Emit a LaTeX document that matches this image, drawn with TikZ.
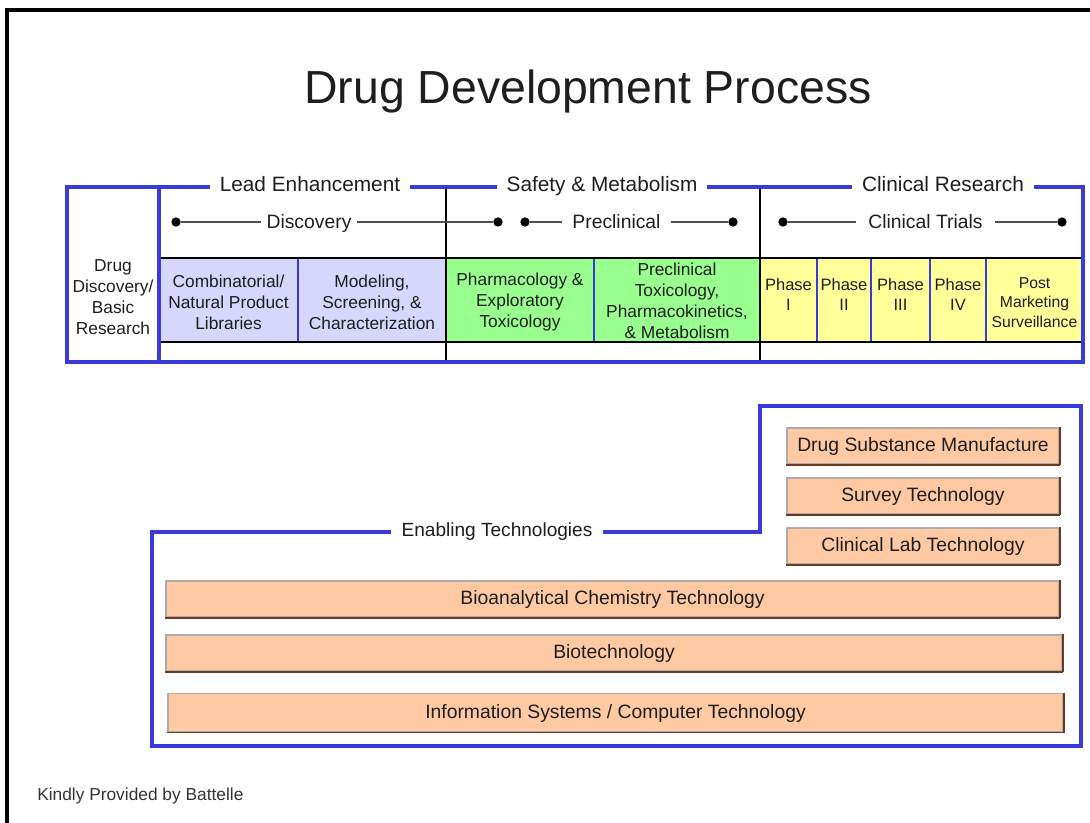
\documentclass[tikz,border=0pt]{standalone}
\usepackage{fontspec}
\setmainfont{Liberation Sans}
\begin{document}
\definecolor{frameblue}{HTML}{3A3AD8}
\definecolor{lav}{HTML}{D6D6FF}
\definecolor{mint}{HTML}{99FF8E}
\definecolor{lemon}{HTML}{FFFF99}
\definecolor{peach}{HTML}{FFC9A3}
\definecolor{ink}{HTML}{1E1E1E}
\definecolor{track}{HTML}{505050}
\definecolor{edgebrown}{HTML}{6A3A22}
\begin{tikzpicture}[x=0.75pt,y=-0.75pt,
  every node/.style={text=ink, align=center},
  blueline/.style={draw=frameblue, line width=2.3pt, line join=miter},
  thinblue/.style={draw=frameblue, line width=1pt},
  rule/.style={draw=black, line width=1.1pt},
  trackline/.style={draw=track, line width=1.5pt},
  dot/.style={circle, fill=black, inner sep=0pt, minimum size=7pt},
  head/.style={font=\fontsize{15.6}{18}\selectfont, inner xsep=7pt, anchor=base},
  sub/.style={font=\fontsize{14.5}{17}\selectfont, inner xsep=4pt, anchor=base},
  cell/.style={font=\fontsize{13}{15.75}\selectfont, inner sep=0pt},
  phase/.style={font=\fontsize{12.4}{14.8}\selectfont, inner sep=0pt},
  darkedge/.style={draw=edgebrown, line width=1.3pt},
  techbox/.style={draw=gray!65, line width=1pt, fill=peach, inner sep=0pt,
    font=\fontsize{14.5}{17}\selectfont, text height=10.5pt, text depth=2pt,
    append after command={(\tikzlastnode.south west) edge[darkedge] (\tikzlastnode.south east)
      (\tikzlastnode.south east) edge[darkedge] (\tikzlastnode.north east)}},
]
\useasboundingbox (0,0) rectangle (1090,823);

% page frame (top and left edges)
\draw[line width=2.3pt] (7,823) -- (7,10) -- (1090,10);

% title
\node[font=\fontsize{34.8}{40}\selectfont, anchor=base] (title) at (588,104) {Drug Development Process};

% ---------- process table ----------
% coloured cells
\fill[lav]   (159,258) rectangle (446,342);
\fill[mint]  (446,258) rectangle (760,342);
\fill[lemon] (760,258) rectangle (1083,342);

% cell separators
\draw[thinblue] (298,258) -- (298,342);
\draw[thinblue] (594,258) -- (594,342);
\foreach \x in {817,871,930,986} \draw[thinblue] (\x,258) -- (\x,342);

% black grid
\draw[rule] (159,258) -- (1083,258);
\draw[rule] (159,342) -- (1083,342);
\draw[rule] (446,187) -- (446,362);
\draw[rule] (760,187) -- (760,362);

% stage headers
\coordinate (ftop) at (67,187);
\node[head] (lead)   at (310,192) {Lead Enhancement};
\node[head] (safety) at (602,192) {Safety \& Metabolism};
\node[head] (clin)   at (943,192) {Clinical Research};

% blue frame of the table
\draw[blueline] (lead.west |- ftop) -- (67,187) -- (67,362) -- (1083,362) -- (1083,187) -- (clin.east |- ftop);
\draw[blueline] (lead.east |- ftop) -- (safety.west |- ftop);
\draw[blueline] (safety.east |- ftop) -- (clin.west |- ftop);
\draw[blueline] (159,187) -- (159,362);

% phase spans
\node[dot] (d1) at (176,222) {};
\node[sub] (disc) at (309,229) {Discovery};
\node[dot] (d2) at (498,222) {};
\draw[trackline] (d1) -- (disc.west |- d1);
\draw[trackline] (disc.east |- d1) -- (d2);

\node[dot] (p1) at (525,222) {};
\node[sub, inner xsep=8pt] (precl) at (616.5,229) {Preclinical};
\node[dot] (p2) at (733,222) {};
\draw[trackline] (p1) -- (precl.west |- p1);
\draw[trackline] (precl.east |- p1) -- (p2);

\node[dot] (c1) at (783,222) {};
\node[sub, inner xsep=9pt] (trials) at (925.5,229) {Clinical Trials};
\node[dot] (c2) at (1062,222) {};
\draw[trackline] (c1) -- (trials.west |- c1);
\draw[trackline] (trials.east |- c1) -- (c2);

% cell labels
\node[cell] (basic) at (113,297) {Drug\\Discovery/\\Basic\\Research};
\node[cell] (comb)  at (228.5,302) {Combinatorial/\\Natural Product\\Libraries};
\node[cell] (model) at (372,302) {Modeling,\\Screening, \&\\Characterization};
\node[cell] (pharm) at (520,302) {Pharmacology \&\\Exploratory\\Toxicology};
\node[cell] (ptox)  at (677,301) {Preclinical\\Toxicology,\\Pharmacokinetics,\\\& Metabolism};
\node[phase] (ph1) at (788.5,294.5) {Phase\\I};
\node[phase] (ph2) at (844,294.5) {Phase\\II};
\node[phase] (ph3) at (900.5,294.5) {Phase\\III};
\node[phase] (ph4) at (958,294.5) {Phase\\IV};
\node[font=\fontsize{11.8}{14.6}\selectfont, inner sep=0pt] (post) at (1034.5,302.5) {Post\\Marketing\\Surveillance};

% ---------- enabling technologies ----------
\node[font=\fontsize{14.3}{17}\selectfont, inner xsep=8pt, anchor=base] (enab) at (497,537) {Enabling Technologies};
\draw[blueline] (enab.east |- 0,532) -- (760,532) -- (760,406) -- (1081,406) -- (1081,746) -- (152,746) -- (152,532) -- (enab.west |- 0,532);

\node[techbox, minimum width=204pt, minimum height=27pt] (dsm) at (923,446) {Drug Substance Manufacture};
\node[techbox, minimum width=204pt, minimum height=27pt] (survey) at (923,496) {Survey Technology};
\node[techbox, minimum width=204pt, minimum height=27pt] (clab) at (923,546) {Clinical Lab Technology};
\node[techbox, minimum width=669.75pt, minimum height=27pt] (bioan) at (612.5,599) {Bioanalytical Chemistry Technology};
\node[techbox, minimum width=672pt, minimum height=27pt] (biotech) at (614,653) {Biotechnology};
\node[techbox, minimum width=671.25pt, minimum height=29pt] (infosys) at (615.5,712.5) {Information Systems / Computer Technology};

% credit line
\node[font=\fontsize{13}{15}\selectfont, text=black!80, anchor=west, inner sep=0pt] (credit) at (37,796) {Kindly Provided by Battelle};
\end{tikzpicture}
\end{document}
